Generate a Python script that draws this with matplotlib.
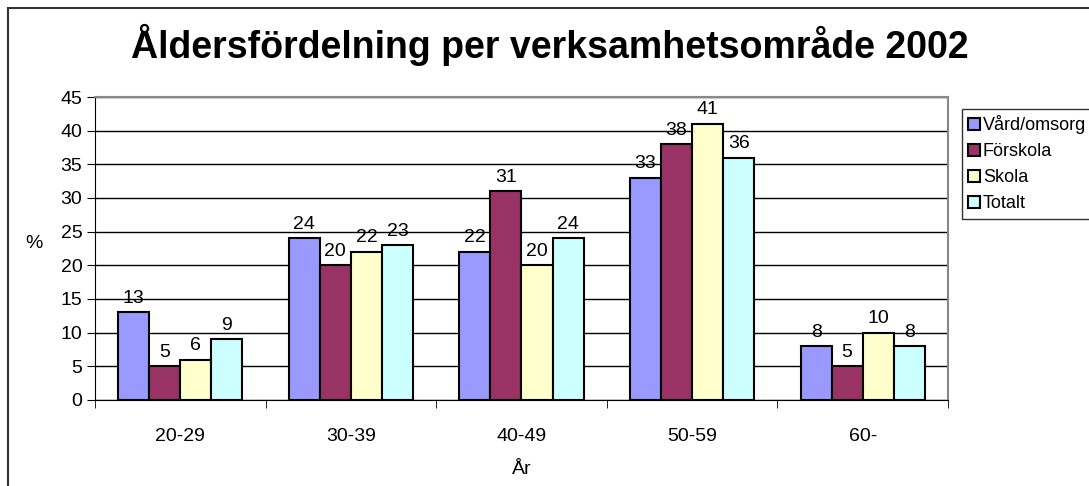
import numpy as np
import matplotlib
matplotlib.use("Agg")
import matplotlib.pyplot as plt
from matplotlib.patches import Rectangle

plt.rcParams["font.family"] = ["Liberation Sans", "DejaVu Sans"]

# ── data ──────────────────────────────────────────────────────────────────────
categories = ["20-29", "30-39", "40-49", "50-59", "60-"]
series_names = ["Vård/omsorg", "Förskola", "Skola", "Totalt"]
vard     = [13, 24, 22, 33, 8]
forskola = [5, 20, 31, 38, 5]
skola    = [6, 22, 20, 41, 10]
totalt   = [9, 23, 24, 36, 8]

COLORS = ["#9999FF", "#993366", "#FFFFCC", "#CCFFFF"]

fig = plt.figure(figsize=(10.89, 4.86), dpi=100)
ax = fig.add_axes([0.0872, 0.177, 0.7833, 0.6234])

x = np.arange(len(categories))
w = 0.182
for i, (vals, name, col) in enumerate(zip([vard, forskola, skola, totalt],
                                          series_names, COLORS)):
    pos = x + (i - 1.5) * w
    bars = ax.bar(pos, vals, w, color=col, edgecolor="black", lw=1.5,
                  label=name, zorder=3)
    ax.bar_label(bars, padding=4, fontsize=14)

ax.set_xlim(-0.5, len(categories) - 0.5)
ax.set_ylim(0, 45)
ax.set_yticks(range(0, 46, 5))
ax.set_xticks(x)
ax.set_xticklabels(categories)
ax.set_xticks(np.arange(-0.5, len(categories), 1), minor=True)
ax.tick_params(axis="x", which="major", length=0, pad=20, labelsize=14)
ax.tick_params(axis="x", which="minor", length=6, direction="out")
ax.tick_params(axis="y", length=6, direction="out", labelsize=14, pad=3)
ax.grid(axis="y", color="black", lw=1, zorder=0)

for side in ["top", "right"]:
    ax.spines[side].set_color("#888888")
    ax.spines[side].set_linewidth(1.5)
ax.spines["left"].set_color("black")
ax.spines["bottom"].set_color("black")

ax.set_ylabel("%", rotation=0, fontsize=14)
ax.yaxis.set_label_coords(-0.072, 0.49)
ax.set_xlabel("År", fontsize=14, labelpad=12)

fig.text(0.505, 0.907, "Åldersfördelning per verksamhetsområde 2002",
         ha="center", va="center", fontsize=27, fontweight="bold")

leg = fig.legend(loc="upper left", bbox_to_anchor=(0.8835, 0.776),
                 fontsize=13, frameon=True, fancybox=False,
                 handlelength=0.65, handleheight=0.65, handletextpad=0.15,
                 labelspacing=0.5, borderpad=0.35, borderaxespad=0)
leg.get_frame().set_edgecolor("black")
leg.get_frame().set_linewidth(1)

# outer chart border
fig.patches.append(Rectangle((0.0075, -0.01), 1.2, 0.9935, transform=fig.transFigure,
                             fill=False, edgecolor="#333333", lw=1.5))

fig.savefig("out.png", dpi=100)
